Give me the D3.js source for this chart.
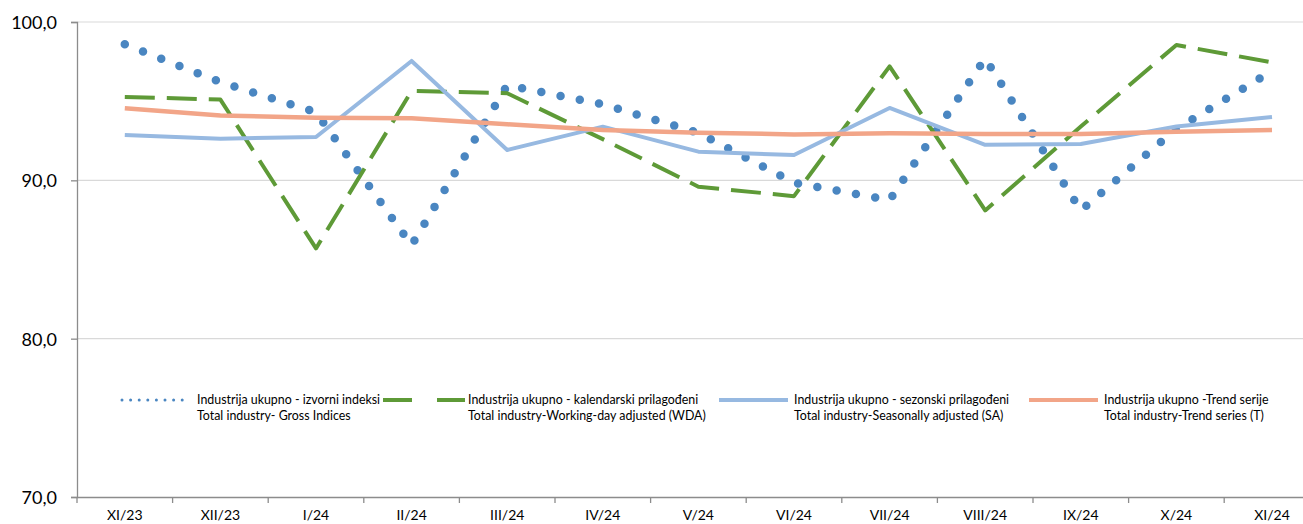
<!DOCTYPE html>
<html>
<head>
<meta charset="utf-8">
<script src="https://cdn.jsdelivr.net/npm/d3@7"></script>
<style>
  html, body { margin: 0; padding: 0; background: #fff; }
  svg { display: block; }
  text { font-family: Lato, "Open Sans", sans-serif; fill: #000; }
</style>
</head>
<body>
<svg id="chart" width="1303" height="524"></svg>
<script>
const categories = ["XI/23","XII/23","I/24","II/24","III/24","IV/24","V/24","VI/24","VII/24","VIII/24","IX/24","X/24","XI/24"];
const gross = [98.6, 96.2, 94.3, 85.9, 96.0, 94.8, 93.0, 89.85, 88.75, 97.7, 88.1, 93.25, 96.9];
const wda   = [95.27, 95.1, 85.7, 95.65, 95.5, 92.6, 89.6, 89.0, 97.2, 88.1, 93.4, 98.55, 97.45];
const sa    = [92.87, 92.63, 92.74, 97.54, 91.92, 93.39, 91.81, 91.6, 94.57, 92.24, 92.3, 93.4, 94.0];
const trend = [94.55, 94.09, 93.96, 93.92, 93.54, 93.18, 93.01, 92.9, 92.97, 92.93, 92.93, 93.07, 93.18];
const yTicks = [70, 80, 90, 100];
const legendLines1 = ["Industrija ukupno - izvorni indeksi", "Industrija ukupno - kalendarski prilagođeni", "Industrija ukupno - sezonski prilagođeni", "Industrija ukupno -Trend serije"];
const legendLines2 = ["Total industry- Gross Indices", "Total industry-Working-day adjusted (WDA)", "Total industry-Seasonally adjusted (SA)", "Total industry-Trend series (T)"];

const svg = d3.select("#chart");
const plotLeft = 77, plotTop = 22, plotBottom = 497;
const step = 95.6;
const x = d3.scaleBand().domain(categories).range([plotLeft, plotLeft + step * categories.length]).padding(0);
const y = d3.scaleLinear().domain([70, 100]).range([plotBottom, plotTop]);
const cx = c => x(c) + x.bandwidth() / 2;

// gridlines
svg.append("g").selectAll("line").data(yTicks.filter(t => t > 70)).join("line")
  .attr("x1", plotLeft).attr("x2", 1303)
  .attr("y1", d => y(d)).attr("y2", d => y(d))
  .attr("stroke", "#d9d9d9").attr("stroke-width", 1.2);

// y axis
const yAxis = svg.append("g").attr("transform", `translate(${plotLeft},0)`)
  .call(d3.axisLeft(y).tickValues(yTicks).tickSize(6).tickPadding(14)
    .tickFormat(d => d3.format(".1f")(d).replace(".", ",")));
yAxis.select(".domain").attr("stroke", "#8c8c8c").attr("stroke-width", 1.3);
yAxis.selectAll(".tick line").attr("stroke", "#8c8c8c").attr("stroke-width", 1.3);
yAxis.selectAll(".tick text").attr("font-size", 18).attr("font-family", "Lato").attr("fill", "#000").attr("dy", "0.36em");

// x axis
const xAxis = svg.append("g").attr("transform", `translate(0,${plotBottom})`)
  .call(d3.axisBottom(x).tickSize(0).tickPadding(13));
xAxis.select(".domain").attr("stroke", "#8c8c8c").attr("stroke-width", 1.3);
xAxis.selectAll(".tick text").attr("font-size", 14).attr("font-family", "Lato").attr("fill", "#000");
// tick marks at band boundaries
svg.append("g").selectAll("line").data(categories).join("line")
  .attr("x1", d => x(d)).attr("x2", d => x(d))
  .attr("y1", plotBottom).attr("y2", plotBottom + 6)
  .attr("stroke", "#8c8c8c").attr("stroke-width", 1.3);

const line = d3.line().x((d, i) => cx(categories[i])).y(d => y(d));

// gross (dotted)
svg.append("path").datum(gross).attr("d", line)
  .attr("fill", "none").attr("stroke", "#4a86c1").attr("stroke-width", 8.5)
  .attr("stroke-linecap", "round").attr("stroke-dasharray", "0 19.6");
// WDA (long dash)
svg.append("path").datum(wda).attr("d", line)
  .attr("fill", "none").attr("stroke", "#5e9a37").attr("stroke-width", 4)
  .attr("stroke-dasharray", "30 12").attr("stroke-linejoin", "round");
// SA
svg.append("path").datum(sa).attr("d", line)
  .attr("fill", "none").attr("stroke", "#97b9e1").attr("stroke-width", 4)
  .attr("stroke-linejoin", "round");
// trend
svg.append("path").datum(trend).attr("d", line)
  .attr("fill", "none").attr("stroke", "#f2a588").attr("stroke-width", 4.5)
  .attr("stroke-linejoin", "round");

// legend
const legend = [
  { x1: 122, x2: 190, tx: 197, stroke: "#4a86c1", w: 3, dash: "0 8.6", cap: "round" },
  { x1: 383, x2: 465, tx: 468, stroke: "#5e9a37", w: 4, dash: "29 25", cap: "butt" },
  { x1: 719, x2: 788, tx: 794, stroke: "#97b9e1", w: 4, dash: null, cap: "butt" },
  { x1: 1029, x2: 1098, tx: 1104, stroke: "#f2a588", w: 4, dash: null, cap: "butt" }
];
const lg = svg.append("g").selectAll("g").data(legend).join("g");
lg.append("line").attr("x1", d => d.x1).attr("x2", d => d.x2).attr("y1", 400).attr("y2", 400)
  .attr("stroke", d => d.stroke).attr("stroke-width", d => d.w)
  .attr("stroke-dasharray", d => d.dash).attr("stroke-linecap", d => d.cap);
lg.append("text").attr("x", d => d.tx).attr("y", 404).attr("font-size", 12.4)
  .text((d, i) => legendLines1[i]);
lg.append("text").attr("x", d => d.tx).attr("y", 420).attr("font-size", 12.4)
  .text((d, i) => legendLines2[i]);
</script>
</body>
</html>
